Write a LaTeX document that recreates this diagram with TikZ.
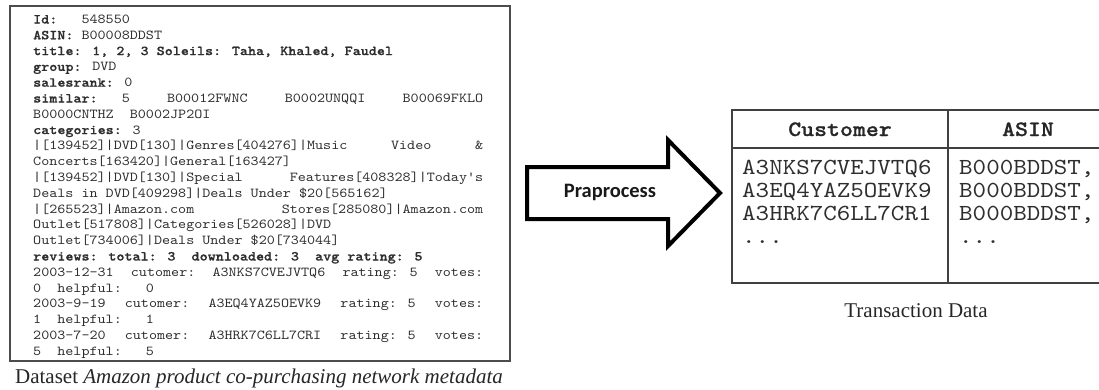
\documentclass[tikz,border=0pt]{standalone}
\usepackage{fontspec}
\setmainfont{Liberation Serif}
\newfontfamily\monofam{lmmono10-regular}[Extension=.otf, BoldFont=lmmonolt10-bold, BoldFeatures={FakeBold=0.8}, FakeStretch=1.12]
\newfontfamily\calfam{Carlito}
\begin{document}
\begin{tikzpicture}[x=1pt,y=-1pt,
  mline/.style={anchor=base west, inner sep=0pt, font=\monofam\fontsize{13.7}{15}\selectfont, text=black!82},
  frame/.style={draw=black!70, line width=2.4pt, inner sep=0pt, anchor=north west},
  tcell/.style={anchor=base west, inner sep=0pt, font=\monofam\fontsize{23}{25}\selectfont, text=black!82},
  thead/.style={anchor=base, inner sep=0pt, font=\monofam\bfseries\fontsize{22}{24}\selectfont, text=black!85},
  capt/.style={anchor=base, inner sep=0pt, font=\fontsize{21}{24}\selectfont, text=black!85},
  tline/.style={draw=black!75, line width=1.6pt},
  blockarrow/.style={draw=black, line width=4pt, line join=miter},
  arrowtext/.style={inner sep=0pt, font=\calfam\bfseries\fontsize{20.5}{24}\selectfont, text=black!90},
]
\useasboundingbox (0,0) rectangle (1099,389);

% ---------- metadata box ----------
\node[frame, minimum width=500pt, minimum height=355pt] (meta) at (9,5) {};
\def\W{450pt}
\node[mline] (l1)  at (33, 23.5) {\textbf{Id:}\ \ \ 548550};
\node[mline] (l2)  at (33, 39.3) {\textbf{ASIN:} B00008DDST};
\node[mline] (l3)  at (33, 55.1) {\textbf{title: 1, 2, 3 Soleils: Taha, Khaled, Faudel}};
\node[mline] (l4)  at (33, 70.9) {\textbf{group:} DVD};
\node[mline] (l5)  at (33, 86.7) {\textbf{salesrank:} 0};
\node[mline] (l6)  at (33,102.5) {\makebox[\W][l]{\textbf{similar:}\ \ \ 5\hfill B00012FWNC\hfill B0002UNQQI\hfill B00069FKLO}};
\node[mline] (l7)  at (33,118.3) {B0000CNTHZ\ \ B0002JP2OI};
\node[mline] (l8)  at (33,134.1) {\textbf{categories:} 3};
\node[mline] (l9)  at (33,149.9) {\makebox[\W][l]{|[139452]|DVD[130]|Genres[404276]|Music\hfill Video\hfill \&}};
\node[mline] (l10) at (33,165.7) {Concerts[163420]|General[163427]};
\node[mline] (l11) at (33,181.5) {\makebox[\W][l]{|[139452]|DVD[130]|Special\hfill Features[408328]|Today's}};
\node[mline] (l12) at (33,197.3) {Deals in DVD[409298]|Deals Under \$20[565162]};
\node[mline] (l13) at (33,213.1) {\makebox[\W][l]{|[265523]|Amazon.com\hfill Stores[285080]|Amazon.com}};
\node[mline] (l14) at (33,228.9) {Outlet[517808]|Categories[526028]|DVD};
\node[mline] (l15) at (33,244.7) {Outlet[734006]|Deals Under \$20[734044]};
\node[mline] (l16) at (33,260.5) {\textbf{reviews: total: 3\ \ downloaded: 3\ \ avg rating: 5}};
\node[mline] (l17) at (33,276.3) {\makebox[\W][l]{2003-12-31\hfill cutomer:\hfill A3NKS7CVEJVTQ6\hfill rating: 5\hfill votes:}};
\node[mline] (l18) at (33,292.1) {0\ \ helpful:\ \ \ 0};
\node[mline] (l19) at (33,307.9) {\makebox[\W][l]{2003-9-19\hfill cutomer:\hfill A3EQ4YAZ5OEVK9\hfill rating: 5\hfill votes:}};
\node[mline] (l20) at (33,323.7) {1\ \ helpful:\ \ \ 1};
\node[mline] (l21) at (33,339.5) {\makebox[\W][l]{2003-7-20\hfill cutomer:\hfill A3HRK7C6LL7CRI\hfill rating: 5\hfill votes:}};
\node[mline] (l22) at (33,355.3) {5\ \ helpful:\ \ \ 5};

\node[capt] (cap1) at (259,383) {Dataset \textit{Amazon product co-purchasing network metadata}};

% ---------- block arrow ----------
\draw[blockarrow] (527,167) -- (668,167) -- (668,140) -- (720,193) -- (668,246) -- (668,219) -- (527,219) -- cycle;
\node[arrowtext] (pre) at (610,192) {Praprocess};

% ---------- transaction table ----------
\draw[tline] (1099,110) -- (732,110) -- (732,283) -- (1099,283);
\draw[tline] (732,148) -- (1099,148);
\draw[tline] (948,110) -- (948,283);
\node[thead] (hc) at (840,136) {Customer};
\node[thead] (ha) at (1028,136) {ASIN};
\node[tcell] (c1) at (742,174) {A3NKS7CVEJVTQ6};
\node[tcell] (c2) at (742,197) {A3EQ4YAZ5OEVK9};
\node[tcell] (c3) at (742,220) {A3HRK7C6LL7CR1};
\node[tcell] (c4) at (742,243) {...};
\node[tcell] (a1) at (959,174) {B000BDDST,};
\node[tcell] (a2) at (959,197) {B000BDDST,};
\node[tcell] (a3) at (959,220) {B000BDDST,};
\node[tcell] (a4) at (959,243) {...};

\node[capt] (cap2) at (916,317) {Transaction Data};
\end{tikzpicture}
\end{document}
